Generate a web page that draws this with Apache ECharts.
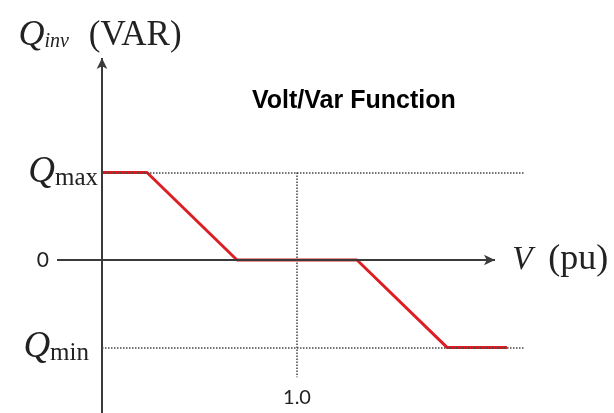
<!DOCTYPE html>
<html>
<head>
<meta charset="utf-8">
<script src="https://cdn.jsdelivr.net/npm/echarts@6/dist/echarts.min.js"></script>
<style>
  html, body { margin: 0; background: #fff; }
  #chart { width: 614px; height: 413px; }
</style>
</head>
<body>
<div id="chart"></div>
<script>
// Volt/Var curve (V in pu, Q normalised so Qmax = 1, Qmin = -1)
const voltage = [0.87, 0.90, 0.96, 1.04, 1.10, 1.14];
const reactive = [1, 1, 0, 0, -1, -1];

const qMax = 1;
const qMin = -1;
const vNominal = 1.0;

// extents of the hand-drawn axes / guides, in data units
const vAxisExtent = [0.84, 1.132];
const qAxisExtent = [-1.75, 2.31];
const guideEndV = 1.152;
const nominalGuideBottom = -1.34;

const serif = "'Liberation Serif', 'DejaVu Serif', serif";
const sans = "Lato, 'Noto Sans', sans-serif";

const axisStyle = { color: '#3a3a3a', width: 2, type: 'solid' };
const guideStyle = { color: '#444', width: 1.5, type: 'dotted' };

const chart = echarts.init(document.getElementById('chart'));

chart.setOption({
    animation: false,
    title: {
        text: 'Volt/Var Function',
        left: 247,
        top: 84,
        textStyle: { fontFamily: "'Liberation Sans', Arial, sans-serif", fontWeight: 'bold', fontSize: 25, color: '#000' }
    },
    grid: { left: 57, right: 77, top: 58, height: 355 },
    xAxis: { type: 'value', min: 0.84, max: 1.16, show: false },
    yAxis: { type: 'value', min: qAxisExtent[0], max: qAxisExtent[1], show: false },
    series: [
        {
            // axes and dotted guides
            type: 'line',
            data: [],
            z: 1,
            silent: true,
            markLine: {
                silent: true,
                symbol: 'none',
                data: [
                    // V axis
                    [
                        {
                            coord: [vAxisExtent[0], 0], symbol: 'none',
                            lineStyle: axisStyle,
                            label: {
                                show: true, position: 'start', distance: 8, formatter: '0',
                                fontFamily: sans, fontSize: 21, color: '#222'
                            }
                        },
                        { coord: [vAxisExtent[1], 0], symbol: 'arrow', symbolSize: [8, 11] }
                    ],
                    // Q axis
                    [
                        {
                            coord: [voltage[0], qAxisExtent[0]], symbol: 'none',
                            lineStyle: axisStyle,
                            label: {
                                show: true, position: 'end', distance: 4, offset: [-2, 0],
                                formatter: '{q|Q}{s|inv}{g|}{u|(VAR)}',
                                rich: {
                                    q: { fontFamily: serif, fontStyle: 'italic', fontSize: 36, color: '#222' },
                                    s: { fontFamily: serif, fontStyle: 'italic', fontSize: 20, color: '#222', padding: [12, 0, 0, 0] },
                                    g: { width: 20 },
                                    u: { fontFamily: serif, fontSize: 35, color: '#222' }
                                }
                            }
                        },
                        { coord: [voltage[0], qAxisExtent[1]], symbol: 'arrow', symbolSize: [8, 11] }
                    ],
                    // Qmax guide
                    [
                        {
                            coord: [voltage[0], qMax], lineStyle: guideStyle,
                            label: {
                                show: true, position: 'start', distance: 4,
                                formatter: '{q|Q}{s|max}',
                                rich: {
                                    q: { fontFamily: serif, fontStyle: 'italic', fontSize: 37, color: '#222' },
                                    s: { fontFamily: serif, fontSize: 25, color: '#222', padding: [12, 0, 0, 0] }
                                }
                            }
                        },
                        { coord: [guideEndV, qMax] }
                    ],
                    // Qmin guide
                    [
                        {
                            coord: [voltage[0], qMin], lineStyle: guideStyle,
                            label: {
                                show: true, position: 'start', distance: 13,
                                formatter: '{q|Q}{s|min}',
                                rich: {
                                    q: { fontFamily: serif, fontStyle: 'italic', fontSize: 37, color: '#222' },
                                    s: { fontFamily: serif, fontSize: 25, color: '#222', padding: [12, 0, 0, 0] }
                                }
                            }
                        },
                        { coord: [guideEndV, qMin] }
                    ],
                    // nominal voltage guide
                    [
                        {
                            coord: [vNominal, qMax], lineStyle: guideStyle,
                            label: {
                                show: true, position: 'end', distance: 10, formatter: '1.0',
                                fontFamily: sans, fontSize: 20, color: '#222'
                            }
                        },
                        { coord: [vNominal, nominalGuideBottom] }
                    ],
                    // V (pu) axis name, attached to a zero-length line at the arrow tip
                    [
                        {
                            coord: [vAxisExtent[1], 0], lineStyle: { width: 0 },
                            label: {
                                show: true, position: 'end', distance: 17,
                                formatter: '{v|V}{g|}{u|(pu)}',
                                rich: {
                                    v: { fontFamily: serif, fontStyle: 'italic', fontSize: 33, color: '#222' },
                                    g: { width: 16 },
                                    u: { fontFamily: serif, fontSize: 36, color: '#222' }
                                }
                            }
                        },
                        { coord: [vAxisExtent[1] + 0.0001, 0] }
                    ]
                ]
            }
        },
        {
            name: 'Volt/Var',
            type: 'line',
            z: 3,
            showSymbol: false,
            silent: true,
            data: voltage.map((v, i) => [v, reactive[i]]),
            lineStyle: { color: '#dc1f24', width: 3 }
        }
    ]
});
</script>
</body>
</html>
